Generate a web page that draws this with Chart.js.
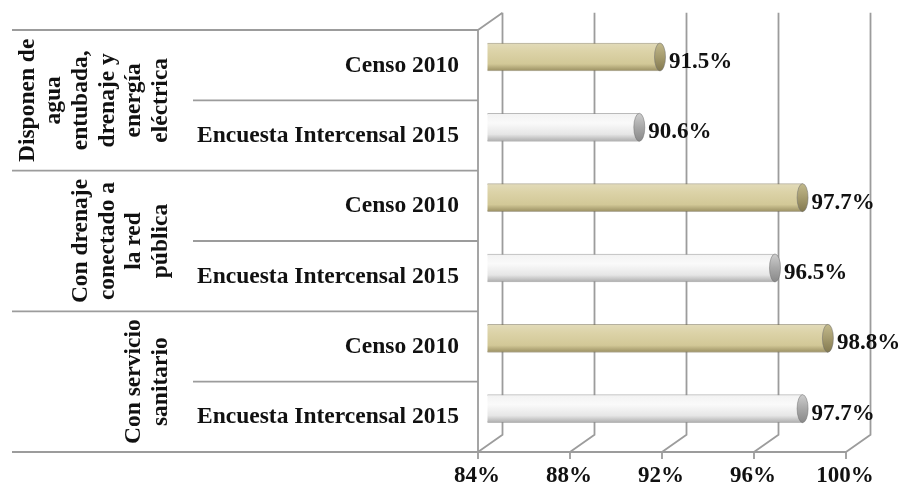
<!DOCTYPE html>
<html>
<head>
<meta charset="utf-8">
<script src="https://cdn.jsdelivr.net/npm/chart.js@4.4.1/dist/chart.umd.min.js"></script>
<style>
  html, body { margin: 0; padding: 0; background: #fff; }
  #wrap { width: 904px; height: 488px; }
</style>
</head>
<body>
<div id="wrap"><canvas id="chart"></canvas></div>
<script>
// Chart data
const groupLabels = [
    ['Disponen de', 'agua', 'entubada,', 'drenaje y', 'energía', 'eléctrica'],
    ['Con drenaje', 'conectado a', 'la red', 'pública'],
    ['Con servicio', 'sanitario']
];
const seriesNames = ['Censo 2010', 'Encuesta Intercensal 2015'];
const censo2010 = [91.5, 97.7, 98.8];
const encuesta2015 = [90.6, 96.5, 97.7];
const xTicks = [84, 88, 92, 96, 100];

// Rows: each group has one Censo row and one Encuesta row
const rowLabels = [];
const censoRows = [];
const encuestaRows = [];
groupLabels.forEach((g, i) => {
    rowLabels.push(seriesNames[0], seriesNames[1]);
    censoRows.push(censo2010[i], null);
    encuestaRows.push(null, encuesta2015[i]);
});

const FONT = '"Liberation Serif", "Times New Roman", serif';
const GRID = '#9c9c9c';
const BAR_H = 28;
// 3D offsets of front and back planes relative to the bar plane
const FX = -9.5, FY = 8.2, BX = 15, BY = -9;

function cylinderFill(stops) {
    return function (c) {
        const chart = c.chart;
        if (!chart.chartArea || c.dataIndex === undefined) return stops[1][1];
        const yc = chart.scales.y.getPixelForValue(c.dataIndex);
        const g = chart.ctx.createLinearGradient(0, yc - BAR_H / 2, 0, yc + BAR_H / 2);
        stops.forEach(s => g.addColorStop(s[0], s[1]));
        return g;
    };
}

const tanFill = cylinderFill([[0, '#e2dbba'], [0.3, '#dcd3a8'], [0.75, '#d2c897'], [1, '#9a8f62']]);
const whiteFill = cylinderFill([[0, '#f2f2f2'], [0.35, '#fafafa'], [0.75, '#e6e6e6'], [1, '#adadad']]);

// Draw the 3D walls, floor, gridlines and category separators
const framePlugin = {
    id: 'frame',
    beforeDatasetsDraw(chart) {
        const ctx = chart.ctx;
        const x = chart.scales.x, y = chart.scales.y;
        const top = chart.chartArea.top, bottom = chart.chartArea.bottom;
        const xs = xTicks.map(v => x.getPixelForValue(v));
        ctx.save();
        ctx.strokeStyle = GRID;
        ctx.lineWidth = 1.8;
        ctx.beginPath();
        // back wall gridlines + floor diagonals
        xs.forEach(px => {
            ctx.moveTo(px + BX, top + BY);
            ctx.lineTo(px + BX, bottom + BY);
            ctx.lineTo(px + FX, bottom + FY);
            ctx.lineTo(px + FX, bottom + FY + 7);
        });
        // floor front edge
        ctx.moveTo(xs[0] + FX, bottom + FY);
        ctx.lineTo(xs[xs.length - 1] + FX, bottom + FY);
        // left wall
        ctx.moveTo(xs[0] + FX, bottom + FY);
        ctx.lineTo(xs[0] + FX, top + FY);
        ctx.lineTo(xs[0] + BX, top + BY);
        // category separators
        const half = (y.getPixelForValue(1) - y.getPixelForValue(0)) / 2;
        for (let k = 0; k <= rowLabels.length; k++) {
            const yb = y.getPixelForValue(0) - half + k * 2 * half + FY;
            ctx.moveTo(k % 2 === 0 ? 12 : 193, yb);
            ctx.lineTo(xs[0] + FX, yb);
        }
        ctx.stroke();
        ctx.restore();
    },
    afterDatasetsDraw(chart) {
        const ctx = chart.ctx;
        ctx.save();
        chart.data.datasets.forEach((ds, di) => {
            const meta = chart.getDatasetMeta(di);
            meta.data.forEach((bar, i) => {
                if (ds.data[i] == null) return;
                const h = bar.height / 2;
                // right end cap of the cylinder
                const g = ctx.createLinearGradient(0, bar.y - h, 0, bar.y + h);
                if (di === 0) {
                    g.addColorStop(0, '#c2b98c');
                    g.addColorStop(0.5, '#a59b6e');
                    g.addColorStop(1, '#837950');
                } else {
                    g.addColorStop(0, '#cdcdcd');
                    g.addColorStop(0.5, '#a8a8a8');
                    g.addColorStop(1, '#898989');
                }
                ctx.beginPath();
                ctx.ellipse(bar.x, bar.y, 5.5, h, 0, 0, Math.PI * 2);
                ctx.fillStyle = g;
                ctx.fill();
                ctx.strokeStyle = 'rgba(110,110,110,0.5)';
                ctx.lineWidth = 1;
                ctx.stroke();
                // value label
                ctx.fillStyle = '#111';
                ctx.font = 'bold 23px ' + FONT;
                ctx.textAlign = 'left';
                ctx.textBaseline = 'middle';
                ctx.fillText(ds.data[i].toFixed(1) + '%', bar.x + 9, bar.y + 5);
            });
        });
        ctx.restore();
    },
    afterDraw(chart) {
        // rotated group labels on the far left
        const ctx = chart.ctx;
        const y = chart.scales.y;
        ctx.save();
        ctx.fillStyle = '#111';
        ctx.font = 'bold 23.5px ' + FONT;
        ctx.textAlign = 'center';
        ctx.textBaseline = 'middle';
        groupLabels.forEach((lines, g) => {
            const cy = (y.getPixelForValue(2 * g) + y.getPixelForValue(2 * g + 1)) / 2 + FY;
            lines.forEach((line, i) => {
                const lx = 161 - 26.7 * (lines.length - 1 - i);
                ctx.save();
                ctx.translate(lx, cy);
                ctx.rotate(-Math.PI / 2);
                ctx.fillText(line, 0, 0);
                ctx.restore();
            });
        });
        ctx.restore();
    }
};

new Chart(document.getElementById('chart'), {
    type: 'bar',
    data: {
        labels: rowLabels,
        datasets: [
            {
                label: seriesNames[0],
                data: censoRows,
                backgroundColor: tanFill,
                borderColor: 'rgba(120,112,80,0.55)',
                borderWidth: 1,
                borderSkipped: false,
                borderRadius: { topLeft: 7, bottomLeft: 7, topRight: 0, bottomRight: 0 },
                barThickness: BAR_H,
                grouped: false
            },
            {
                label: seriesNames[1],
                data: encuestaRows,
                backgroundColor: whiteFill,
                borderColor: 'rgba(140,140,140,0.6)',
                borderWidth: 1,
                borderSkipped: false,
                borderRadius: { topLeft: 7, bottomLeft: 7, topRight: 0, bottomRight: 0 },
                barThickness: BAR_H,
                grouped: false
            }
        ]
    },
    options: {
        indexAxis: 'y',
        responsive: true,
        maintainAspectRatio: false,
        animation: false,
        layout: { padding: { top: 21.8, right: 48.5, bottom: 0, left: 0 } },
        plugins: {
            legend: { display: false },
            tooltip: { enabled: false }
        },
        scales: {
            x: {
                min: 84,
                max: 100,
                grid: { display: false, drawTicks: false },
                border: { display: false },
                afterFit(s) {
                    s.height = 44.2;
                    s.paddingLeft = 0;
                    s.paddingRight = 0;
                },
                ticks: {
                    stepSize: 4,
                    padding: 18,
                    labelOffset: -10.5,
                    color: '#111',
                    font: { family: FONT, size: 23, weight: 'bold' },
                    callback: v => v + '%'
                }
            },
            y: {
                grid: { display: false, drawTicks: false },
                border: { display: false },
                afterFit(s) {
                    s.width = 487.5;
                    s.paddingTop = 0;
                    s.paddingBottom = 0;
                },
                ticks: {
                    autoSkip: false,
                    padding: 28.5,
                    labelOffset: 8.5,
                    color: '#111',
                    font: { family: FONT, size: 23.5, weight: 'bold' }
                }
            }
        }
    },
    plugins: [framePlugin]
});
</script>
</body>
</html>
